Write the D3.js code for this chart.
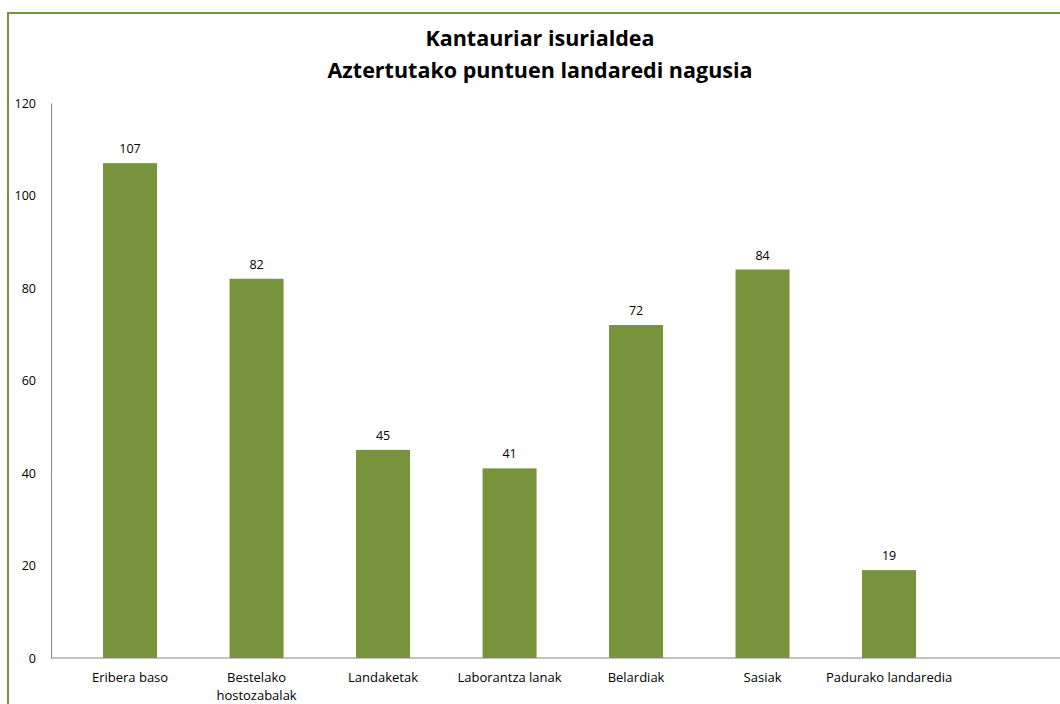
<!DOCTYPE html>
<html>
<head>
<meta charset="utf-8">
<script src="https://cdn.jsdelivr.net/npm/d3@7"></script>
<style>
    html, body { margin: 0; padding: 0; background: #fff; }
    svg { display: block; font-family: "Open Sans", Lato, sans-serif; }
</style>
</head>
<body>
<div id="chart"></div>
<script>
const categories = ['Eribera baso', 'Bestelako hostozabalak', 'Landaketak', 'Laborantza lanak',
    'Belardiak', 'Sasiak', 'Padurako landaredia'];
const values = [107, 82, 45, 41, 72, 84, 19];
const yTicks = [0, 20, 40, 60, 80, 100, 120];
const titleLines = ['Kantauriar isurialdea', 'Aztertutako puntuen landaredi nagusia'];
// wrapped category labels, as in the original
const labelLines = {'Bestelako hostozabalak': ['Bestelako', 'hostozabalak']};

const green = '#77933c';
const W = 1060, H = 704;
const font = '"Open Sans", Lato, sans-serif';

var svg = d3.select('#chart')
    .append('svg')
    .attr('width', W)
    .attr('height', H);

// outer frame, runs off the right and bottom edge
svg.append('rect')
    .attr('x', 8)
    .attr('y', 13)
    .attr('width', 1070)
    .attr('height', 720)
    .attr('fill', 'none')
    .attr('stroke', green)
    .attr('stroke-width', 2);

svg.append('g')
    .selectAll('text')
    .data(titleLines)
    .enter().append('text')
    .attr('x', 540)
    .attr('y', function (d, i) { return 46 + i * 32; })
    .attr('text-anchor', 'middle')
    .attr('font-size', 21.5)
    .attr('font-weight', 'bold')
    .attr('fill', '#000')
    .text(function (d) { return d; });

var y = d3.scaleLinear().domain([0, 120]).range([658, 103]);
var x = d3.scaleBand()
    .domain(categories)
    .range([66.8, 952.3])
    .paddingInner(0.573)
    .paddingOuter(0.2865);

// y axis: line only, labels right aligned
var yAxis = svg.append('g')
    .attr('transform', 'translate(51,0)')
    .call(d3.axisLeft(y).tickValues(yTicks).tickSize(0).tickPadding(15));
yAxis.select('.domain').attr('stroke', '#868686');
yAxis.selectAll('text')
    .attr('font-size', 12.5)
    .attr('font-family', font)
    .attr('fill', '#000');

svg.selectAll('rect.bar')
    .data(values)
    .enter().append('rect')
    .classed('bar', true)
    .attr('x', function (d, i) { return x(categories[i]); })
    .attr('y', function (d) { return y(d); })
    .attr('width', x.bandwidth())
    .attr('height', function (d) { return y(0) - y(d); })
    .attr('fill', green);

svg.selectAll('text.val')
    .data(values)
    .enter().append('text')
    .classed('val', true)
    .attr('x', function (d, i) { return x(categories[i]) + x.bandwidth() / 2; })
    .attr('y', function (d) { return y(d) - 10; })
    .attr('text-anchor', 'middle')
    .attr('font-size', 12.5)
    .attr('fill', '#000')
    .text(function (d) { return d; });

// baseline across the whole width
svg.append('line')
    .attr('x1', 51)
    .attr('x2', W)
    .attr('y1', y(0))
    .attr('y2', y(0))
    .attr('stroke', '#868686');

var lbl = svg.selectAll('text.cat')
    .data(categories)
    .enter().append('text')
    .classed('cat', true)
    .attr('x', function (d) { return x(d) + x.bandwidth() / 2; })
    .attr('y', 682)
    .attr('text-anchor', 'middle')
    .attr('font-size', 13)
    .attr('fill', '#000');
lbl.selectAll('tspan')
    .data(function (d) { return labelLines[d] || [d]; })
    .enter().append('tspan')
    .attr('x', function () { return d3.select(this.parentNode).attr('x'); })
    .attr('dy', function (d, i) { return i ? 18 : 0; })
    .text(function (d) { return d; });
</script>
</body>
</html>
